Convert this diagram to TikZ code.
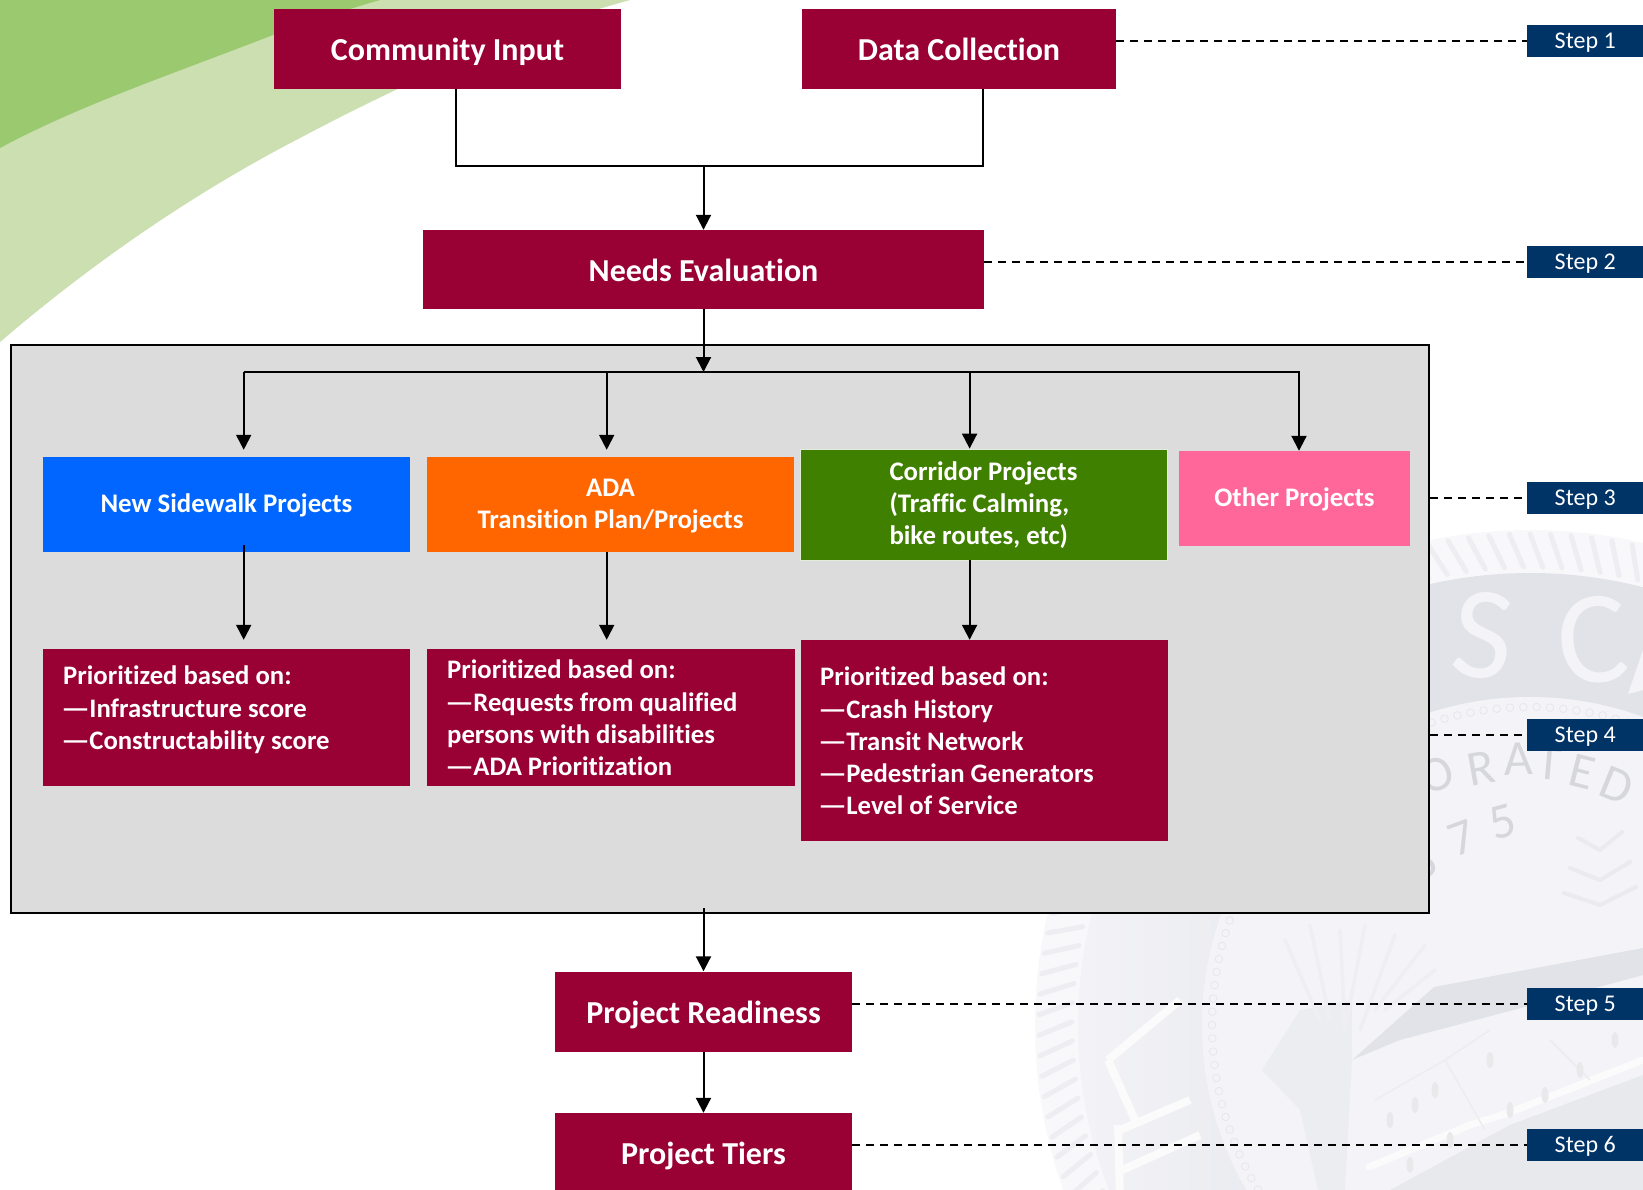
\documentclass[tikz,border=0pt]{standalone}
\usepackage{fontspec}
\setmainfont{Carlito}[Ligatures=NoCommon]
\usetikzlibrary{arrows.meta,calc}
\definecolor{maroon}{HTML}{990033}
\definecolor{navy}{HTML}{003366}
\definecolor{panelgrey}{HTML}{DCDCDC}
\definecolor{sBlue}{HTML}{0066FF}
\definecolor{sOrange}{HTML}{FF6600}
\definecolor{sGreen}{HTML}{408000}
\definecolor{sPink}{HTML}{FF6699}
\definecolor{leafD}{HTML}{9BC96F}
\definecolor{leafL}{HTML}{CBDFB0}
\definecolor{sealA}{HTML}{E2E3E9}
\definecolor{sealB}{HTML}{F4F4F8}
\definecolor{sealC}{HTML}{D6D7DD}
\newcommand\dsh{\kern-2pt\scalebox{1.2}[1]{—}\kern-.8pt}
\tikzset{
  box/.style={fill=#1,text=white,font=\bfseries,inner sep=0pt,align=center},
  big/.style={box=maroon,font=\fontsize{32}{38}\selectfont\bfseries,text height=23pt,text depth=0pt},
  cat/.style={box=#1,font=\fontsize{26.8}{32.2}\selectfont\bfseries,text height=18pt,text depth=2pt},
  listbox/.style={box=maroon},
  listtext/.style={text=white,inner sep=0pt,align=left,anchor=north west,font=\fontsize{26.7}{32.2}\selectfont\bfseries},
  stepbox/.style={fill=navy,text=white,inner sep=0pt,minimum width=116pt,minimum height=32pt,anchor=west,font=\fontsize{24}{28}\selectfont,text height=15pt,text depth=0pt},
  arr/.style={draw=black,line width=2pt,-{Triangle[width=15pt,length=15pt]}},
  conn/.style={draw=black,line width=2pt},
  leader/.style={draw=black,line width=1.8pt,dash pattern=on 7.5pt off 6.5pt},
  sealtxt/.style={text=sealC,font=\fontsize{50}{50}\selectfont,inner sep=0pt},
  sealcap/.style={text=sealB,font=\fontsize{132}{132}\selectfont,inner sep=0pt},
}
\begin{document}
\begin{tikzpicture}[x=1pt,y=-1pt]
\useasboundingbox (0,0) rectangle (1643,1190);
\clip (0,0) rectangle (1643,1190);
\fill[white] (0,0) rectangle (1643,1190);
% ---- green swoosh
\fill[leafL] (0,0) -- (630,0) .. controls (520,30) and (400,85) .. (300,138)
  .. controls (190,195) and (90,265) .. (0,342) -- cycle;
\fill[leafD] (0,0) -- (380,0) .. controls (345,10) and (310,22) .. (273,35)
  .. controls (170,75) and (80,105) .. (0,148) -- cycle;
% ---- seal watermark
\begin{scope}
 \clip (1000,522) rectangle (1643,1190);
 \fill[white!40!sealB] (1530,1025) circle (495);
 \begin{scope}
  \clip (1530,1025) circle (452);
  \shade[left color=sealB,right color=sealA] (1060,500) rectangle (1420,1190);
  \fill[sealA] (1420,500) rectangle (1643,1190);
 \end{scope}
 \fill[sealB] (1530,1025) circle (328);
 \foreach \a in {90,92.4,...,290}{
   \draw[sealA!60!white,line width=5pt,line cap=round] ($(1530,1025)+(\a+1.6:458)$) -- ($(1530,1025)+(\a:491)$);
 }
 \foreach \a in {84,86.4,...,290}{
   \draw[sealC!60!white,fill=sealB,line width=.8pt] ($(1530,1025)+(\a:318)$) circle (3.8);
 }
 % letters on the band
 \node[sealcap] (lS) at (1483,636) [rotate=-6] {S};
 \node[sealcap] (lC) at (1593,640) [rotate=5] {C};
 \fill[sealB] (1628,694) -- (1643,650) -- (1643,690) -- cycle;
 \node[sealtxt] (l1) at (1437,775) [rotate=20] {O};
 \node[sealtxt] (l2) at (1481,768) [rotate=10] {R};
 \node[sealtxt] (l3) at (1518,759) [rotate=2] {A};
 \node[sealtxt] (l4) at (1549,764) [rotate=-5] {T};
 \node[sealtxt] (l5) at (1582,772) [rotate=-14] {E};
 \node[sealtxt] (l6) at (1617,785) [rotate=-22] {D};
 \node[sealtxt] (n8) at (1422,862) [rotate=25] {8};
 \node[sealtxt] (n7) at (1462,838) [rotate=20] {7};
 \node[sealtxt] (n5) at (1503,822) [rotate=15] {5};
 % pale letter strokes on the left of the band
 \draw[white!60!sealB,line width=8pt] (1108,1060) -- (1180,1000) (1108,1060) -- (1135,1120)
       (1118,1125) -- (1120,1200) (1120,1130) -- (1190,1100) (1122,1170) -- (1200,1135);
 % trunk, roof and building
 \fill[sealA!65!white] (1262,1070) -- (1300,1010) -- (1352,1000) -- (1352,1060) -- (1345,1190) -- (1318,1190) -- (1300,1110) -- cycle;
 \fill[sealA] (1434,987) -- (1643,948) -- (1643,975) -- (1525,1007) -- (1400,1040) -- (1352,1060) -- cycle;
 \fill[sealB] (1345,1190) -- (1350,1100) .. controls (1360,1070) and (1390,1055) .. (1420,1045) -- (1643,980) -- (1643,1060) -- (1508,1113) -- (1369,1167) -- cycle;
 \fill[sealA!80!white] (1643,1075) -- (1510,1125) -- (1390,1190) -- (1643,1190) -- cycle;
 \draw[white!60!sealB,line width=7pt,line cap=round] (1369,1167) -- (1470,1125) -- (1508,1113) -- (1643,1060);
 \draw[sealC!45!white,line width=1.5pt] (1375,1100) -- (1445,1060) -- (1485,1130) (1445,1060) -- (1490,1030) (1550,1040) -- (1590,1080);
 \foreach \x/\y in {1390/1120,1415/1105,1435/1090,1410/1165,1450/1140,1490/1060,1510/1110,1545/1095,1580/1070,1615/1040}{
   \fill[sealC!55!white] (\x,\y) ellipse (3.5 and 8);
 }
 \foreach \a/\b/\c/\d in {1320/1020/1285/940,1330/1020/1310/925,1345/1030/1340/930,1345/1030/1365/925,1360/1030/1395/935,1375/1010/1425/945,1385/1010/1435/970}{
   \draw[sealC!40!white,line width=3.5pt,line cap=round] (\a,\b) -- (\c,\d);
 }
 \foreach \y/\w in {850/22,880/30,905/36}{
   \draw[sealC!50!white,line width=4pt,line cap=round] (1600,\y) -- (1600+\w,\y-18) (1600,\y) -- (1600-\w,\y-12);
 }
\end{scope}
% ---- panel
\node[draw=black,fill=panelgrey,line width=2pt,inner sep=0pt,minimum width=1418pt,minimum height=568pt] (panel) at (720,629) {};
% ---- main boxes
\node[big,minimum width=347pt,minimum height=80pt] (comm) at (447.5,49) {Community Input};
\node[big,minimum width=314pt,minimum height=80pt] (data) at (959,49) {Data Collection};
\node[big,minimum width=561pt,minimum height=79pt] (needs) at (703.5,269.5) {Needs Evaluation};
\node[big,minimum width=297pt,minimum height=80pt] (ready) at (703.5,1011.5) {Project Readiness};
\node[big,text height=20pt,minimum width=297pt,minimum height=82pt] (tiers) at (703.5,1154) {Project Tiers};
% ---- category boxes
\node[cat=sBlue,minimum width=367pt,minimum height=95pt] (blue) at (226.5,504.5) {New Sidewalk Projects};
\node[cat=sOrange,text height=50.2pt,minimum width=367pt,minimum height=95pt] (orange) at (610.5,504.5) {ADA\\Transition Plan/Projects};
\node[cat=sGreen,text height=82.4pt,draw=white!85!sGreen,line width=.8pt,minimum width=367pt,minimum height=111pt,align=left] (green) at (983.5,504.5) {Corridor Projects\\(Traffic Calming,\\bike routes, etc)};
\node[cat=sPink,minimum width=231pt,minimum height=95pt] (pink) at (1294.5,498.5) {Other Projects};
% ---- list boxes
\node[listbox,minimum width=367pt,minimum height=137pt] (redA) at (226.5,717.5) {};
\node[listbox,minimum width=368pt,minimum height=137pt] (redB) at (611,717.5) {};
\node[listbox,minimum width=367pt,minimum height=201pt] (redC) at (984.5,740.5) {};
\node[listtext] (txtA) at (63,666) {Prioritized based on:\\\dsh Infrastructure score\\\dsh Constructability score};
\node[listtext] (txtB) at (447,660) {Prioritized based on:\\\dsh Requests from qualified\\persons with disabilities\\\dsh ADA Prioritization};
\node[listtext] (txtC) at (820,667) {Prioritized based on:\\\dsh Crash History\\\dsh Transit Network\\\dsh Pedestrian Generators\\\dsh Level of Service};
% ---- step tags
\node[stepbox] (s1) at (1527,41) {Step 1};
\node[stepbox] (s2) at (1527,262) {Step 2};
\node[stepbox] (s3) at (1527,498) {Step 3};
\node[stepbox] (s4) at (1527,735) {Step 4};
\node[stepbox] (s5) at (1527,1004) {Step 5};
\node[stepbox] (s6) at (1527,1145) {Step 6};
% ---- leaders
\draw[leader] (s1.west -| data.east) -- (s1.west);
\draw[leader] (s2.west -| needs.east) -- (s2.west);
\draw[leader] (s3.west -| panel.east) -- (s3.west);
\draw[leader] (s4.west -| panel.east) -- (s4.west);
\draw[leader] (s5.west -| ready.east) -- (s5.west);
\draw[leader] (s6.west -| tiers.east) -- (s6.west);
% ---- connectors
\coordinate (mergeL) at (455.5,166.5);
\coordinate (mergeR) at (983,166.5);
\coordinate (mergeM) at (703.5,166.5);
\draw[conn] (mergeL |- comm.south) -- (mergeL) -- (mergeR) -- (mergeR |- data.south);
\draw[arr] (mergeM) -- (needs.north);
\coordinate (busM) at (703.5,372);
\coordinate (busA) at (243.7,372);
\coordinate (busB) at (606.7,372);
\coordinate (busC) at (969.6,372);
\coordinate (busD) at (1299,372);
\draw[arr] (needs.south) -- (busM);
\draw[arr] (busA) -- (busD) -- (busD |- pink.north);
\draw[arr,shorten >=7pt] (busA) -- (busA |- blue.north);
\draw[arr,shorten >=7pt] (busB) -- (busB |- orange.north);
\draw[arr] (busC) -- (busC |- green.north);
\coordinate (dropA) at (243.7,545);
\draw[arr,shorten >=9pt] (dropA) -- (dropA |- redA.north);
\draw[arr,shorten >=9pt] (busB |- orange.south) -- (busB |- redB.north);
\draw[arr] (busC |- green.south) -- (busC |- redC.north);
\coordinate (outP) at (703.5,908);
\draw[arr] (outP) -- (ready.north);
\draw[arr] (ready.south) -- (tiers.north);
\end{tikzpicture}
\end{document}
